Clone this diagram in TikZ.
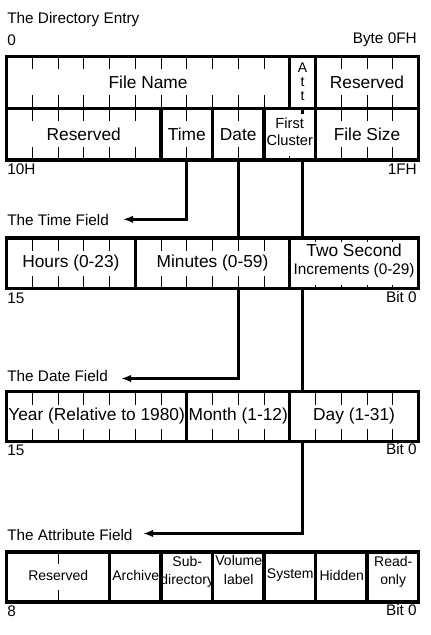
\documentclass[tikz,border=0pt]{standalone}
\usepackage{fontspec}
\setmainfont{Liberation Sans}
\usetikzlibrary{arrows.meta}

\begin{document}
\begin{tikzpicture}[x=0.75pt,y=0.75pt,yscale=-1,xscale=1,
  frame/.style={line width=2.4pt},
  bar/.style={line width=2.4pt},
  tick/.style={line width=0.75pt},
  link/.style={line width=2.1pt},
  conn/.style={line width=2.1pt,-{Latex[length=7.5pt,width=5.5pt]}},
  head/.style={anchor=west,inner sep=0.75pt,font=\fontsize{11.5}{13}\selectfont},
  bytelab/.style={inner sep=0.75pt,font=\fontsize{11.5}{13}\selectfont},
  field/.style={inner sep=0pt,font=\fontsize{13}{15}\selectfont},
  twoline/.style={inner sep=0pt,align=center,font=\fontsize{11}{13}\selectfont},
  attr/.style={inner sep=0pt,align=center,font=\fontsize{10.5}{14}\selectfont}]
\path (0,0) rectangle (431,635); %set diagram size 431 x 635

%Ticks [directory entry]
\foreach \k in {1,2,3,4,5,6,7,8,9,10,13,14,15} {
  \draw[tick] (6.5+25.75*\k,56.5) -- ++(0,13);
  \draw[tick] (6.5+25.75*\k,108.3) -- ++(0,-13);
}
\foreach \k in {1,2,3,4,5,7,9,13,14,15} {
  \draw[tick] (6.5+25.75*\k,108.3) -- ++(0,13);
  \draw[tick] (6.5+25.75*\k,160) -- ++(0,-13);
}
\draw[tick] (289.75,160) -- ++(0,-4);
%Shape: Rectangle [directory entry]
\draw[frame] (6.5,56.5) rectangle (418.5,160);
\draw[bar] (6.5,108.3) -- (418.5,108.3);
\draw[bar] (289.75,56.5) -- (289.75,108.3);
\draw[bar] (315.5,56.5) -- (315.5,108.3);
\draw[bar] (161,108.3) -- (161,160);
\draw[bar] (212.5,108.3) -- (212.5,160);
\draw[bar] (264,108.3) -- (264,160);
\draw[bar] (315.5,108.3) -- (315.5,160);

%Ticks [time field]
\foreach \k in {1,2,3,4,6,7,8,9,10} {
  \draw[tick] (6.5+25.75*\k,238) -- ++(0,13);
  \draw[tick] (6.5+25.75*\k,288.5) -- ++(0,-13);
}
\foreach \k in {12,13,14,15} {
  \draw[tick] (6.5+25.75*\k,238) -- ++(0,4);
  \draw[tick] (6.5+25.75*\k,288.5) -- ++(0,-4);
}
%Shape: Rectangle [time field]
\draw[frame] (6.5,238) rectangle (418.5,288.5);
\draw[bar] (135.25,238) -- (135.25,288.5);
\draw[bar] (289.75,238) -- (289.75,288.5);

%Ticks [date field]
\foreach \k in {1,2,3,4,5,6,8,9,10,12,13,14,15} {
  \draw[tick] (6.5+25.75*\k,391.5) -- ++(0,13);
  \draw[tick] (6.5+25.75*\k,441.5) -- ++(0,-13);
}
%Shape: Rectangle [date field]
\draw[frame] (6.5,391.5) rectangle (418.5,441.5);
\draw[bar] (186.75,391.5) -- (186.75,441.5);
\draw[bar] (289.75,391.5) -- (289.75,441.5);

%Ticks [attribute field]
\draw[tick] (58,552) -- ++(0,12);
\draw[tick] (58,602) -- ++(0,-12);
%Shape: Rectangle [attribute field]
\draw[frame] (6.5,552) rectangle (418.5,602);
\foreach \j in {2,...,7} {
  \draw[bar] (6.5+51.5*\j,552) -- (6.5+51.5*\j,602);
}

% Text Node
\draw (6,20) node[head] (dirhead) {The Directory Entry};
% Text Node
\draw (6,40) node[bytelab,anchor=west] (dirfrom) {0};
% Text Node
\draw (418,40) node[bytelab,anchor=east] (dirto) {Byte 0FH};
% Text Node
\draw (6,169) node[bytelab,anchor=west] (dirfrom2) {10H};
% Text Node
\draw (418,169) node[bytelab,anchor=east] (dirto2) {1FH};
% Text Node
\draw (148.1,82.4) node[field] (filename) {File Name};
% Text Node
\draw (302.6,81.5) node[inner sep=0pt,align=center,font=\fontsize{10.5}{10.5}\selectfont] (att) {A\\t\\t};
% Text Node
\draw (367,82.4) node[field] (resvtop) {Reserved};
% Text Node
\draw (83.75,134.2) node[field] (resvlow) {Reserved};
% Text Node
\draw (186.75,134.2) node[field] (time) {Time};
% Text Node
\draw (238.25,134.2) node[field] (date) {Date};
% Text Node
\draw (289.75,131.5) node[twoline] (cluster) {First\\Cluster};
% Text Node
\draw (367,134.2) node[field] (filesize) {File Size};

% Text Node
\draw (6,220) node[head] (timehead) {The Time Field};
% Text Node
\draw (70.9,263.2) node[field] (hours) {Hours (0-23)};
% Text Node
\draw (212.5,263.2) node[field] (minutes) {Minutes (0-59)};
% Text Node
\draw (354.1,261) node[inner sep=0pt,align=center,font=\fontsize{13}{13.5}\selectfont] (seconds) {Two Second\\{\fontsize{11.5}{13.5}\selectfont Increments (0-29)}};
% Text Node
\draw (6,298) node[bytelab,anchor=west] (timehigh) {15};
% Text Node
\draw (418,297) node[bytelab,anchor=east] (timelow) {Bit 0};

% Text Node
\draw (6,376) node[head] (datehead) {The Date Field};
% Text Node
\draw (96.6,416.5) node[field] (year) {Year (Relative to 1980)};
% Text Node
\draw (238.25,416.5) node[field] (month) {Month (1-12)};
% Text Node
\draw (354.1,416.5) node[field] (day) {Day (1-31)};
% Text Node
\draw (6,450) node[bytelab,anchor=west] (datehigh) {15};
% Text Node
\draw (418,449) node[bytelab,anchor=east] (datelow) {Bit 0};

% Text Node
\draw (6,535) node[head] (attrhead) {The Attribute Field};
% Text Node
\draw (58.25,575) node[attr] (attresv) {Reserved};
% Text Node
\draw (135.75,575) node[attr] (archive) {Archive};
% Text Node
\draw (187.25,572) node[attr] (subdir) {Sub-\\directory};
% Text Node
\draw (238.75,570) node[attr] (volume) {Volume\\label};
% Text Node
\draw (290.25,575) node[attr] (system) {System};
% Text Node
\draw (341.75,575) node[attr] (hidden) {Hidden};
% Text Node
\draw (393.25,572) node[attr] (readonly) {Read-\\only};
% Text Node
\draw (6,611) node[bytelab,anchor=west] (attrhigh) {8};
% Text Node
\draw (418,610) node[bytelab,anchor=east] (attrlow) {Bit 0};

%Straight Lines [connectors]
\coordinate (timeFrom) at (186.75,160);
\coordinate (timeTip) at (123,219.3);
\coordinate (dateFrom) at (238.25,160);
\coordinate (dateIn) at (238.25,238);
\coordinate (dateOut) at (238.25,288.5);
\coordinate (dateTip) at (121,378.5);
\coordinate (attFrom) at (302.6,108.3);
\coordinate (attStub) at (302.6,113.5);
\coordinate (attOut1) at (302.6,160);
\coordinate (attIn1) at (302.6,238);
\coordinate (attOut2) at (302.6,288.5);
\coordinate (attIn2) at (302.6,391.5);
\coordinate (attOut3) at (302.6,441.5);
\coordinate (attTip) at (143,533.5);
\draw[conn] (timeFrom) |- (timeTip);
\draw[link] (dateFrom) -- (dateIn);
\draw[conn] (dateOut) |- (dateTip);
\draw[link] (attFrom) -- (attStub);
\draw[link] (attOut1) -- (attIn1);
\draw[link] (attOut2) -- (attIn2);
\draw[conn] (attOut3) |- (attTip);

\end{tikzpicture}
\end{document}
